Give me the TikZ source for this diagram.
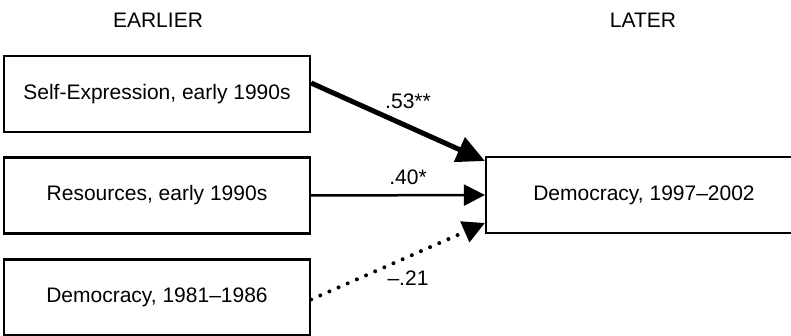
\documentclass[tikz,border=0pt]{standalone}
\usepackage{fontspec}
\setmainfont{Liberation Sans}
\usetikzlibrary{arrows.meta}

\begin{document}
\begin{tikzpicture}[x=1pt,y=-1pt,
 box/.style={draw=black,line width=2.2pt,minimum width=306pt,minimum height=76pt,inner sep=0pt,font=\fontsize{21}{25}\selectfont},
 lbl/.style={font=\fontsize{21}{25}\selectfont,inner sep=0pt},
 path/.style={line width=2.5pt,-{Triangle[length=21pt,width=21pt]}}]
\useasboundingbox (0,0) rectangle (791,336);
\node[lbl] (earlier) at (158,20) {EARLIER};
\node[lbl] (later) at (643,20) {LATER};
\node[box] (selfexp) at (157,94) {Self-Expression, early 1990s};
\node[box] (resources) at (157,195.5) {Resources, early 1990s};
\node[box] (demold) at (157,297.5) {Democracy, 1981--1986};
\node[box,minimum width=316pt,minimum height=76pt] (demnew) at (644,195) {Democracy, 1997--2002};
\draw[path,line width=5pt,-{Triangle[length=28pt,width=26pt]}] ([yshift=11pt]selfexp.east) -- ([yshift=34pt]demnew.west);
\draw[path] (resources.east) -- (demnew.west);
\draw[path,line width=4pt,line cap=round,dash pattern=on 0pt off 10pt,-{Triangle[length=22pt,width=22pt]}] ([yshift=-2pt]demold.east) -- ([yshift=-28pt]demnew.west);
\node[lbl] (b1) at (408,101) {.53**};
\node[lbl] (b2) at (408,177) {.40*};
\node[lbl] (b3) at (408,278) {--.21};
\end{tikzpicture}
\end{document}
